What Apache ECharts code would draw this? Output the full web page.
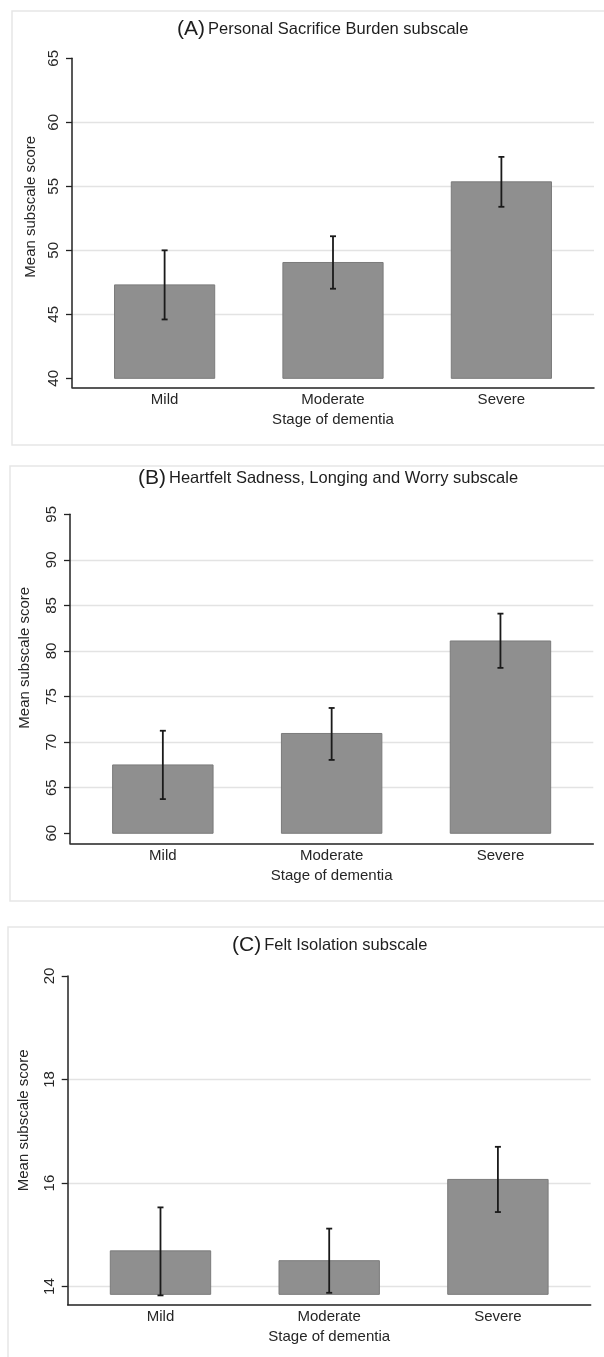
<!DOCTYPE html>
<html>
<head>
<meta charset="utf-8">
<script src="https://cdn.jsdelivr.net/npm/echarts@6/dist/echarts.min.js"></script>
<style>
html,body{margin:0;padding:0;background:#fff;}
#chart{width:604px;height:1357px;}
</style>
</head>
<body>
<div id="chart"></div>
<script>
// ---------- data ----------
const CATEGORIES = ['Mild', 'Moderate', 'Severe'];

const TITLE_TAGS = ['(A)', '(B)', '(C)'];
const TITLES = ['Personal Sacrifice Burden subscale', 'Heartfelt Sadness, Longing and Worry subscale', 'Felt Isolation subscale'];

const MEAN_A = [47.3, 49.05, 55.35];
const LOW_A  = [44.6, 47.0, 53.4];
const HIGH_A = [50.0, 51.1, 57.3];
const TICKS_A = [40, 45, 50, 55, 60, 65];

const MEAN_B = [67.5, 70.95, 81.1];
const LOW_B  = [63.75, 68.05, 78.15];
const HIGH_B = [71.25, 73.75, 84.1];
const TICKS_B = [60, 65, 70, 75, 80, 85, 90, 95];

const MEAN_C = [14.69, 14.50, 16.07];
const LOW_C  = [13.83, 13.88, 15.44];
const HIGH_C = [15.53, 15.12, 16.70];
const TICKS_C = [14, 16, 18, 20];

const BASE = [40, 60, 13.85];            // bar baselines
const Y_RANGE = [[39.3, 65], [58.9, 95], [13.65, 20]];

const Y_NAME = 'Mean subscale score';
const X_NAME = 'Stage of dementia';

// ---------- rendering ----------
const FONT = '"Liberation Sans", Arial, sans-serif';
const TXT = '#262626';
const BAR_W = 0.595;   // in category units
const CAP = 3;         // error-bar half cap, px

const panels = [
  {mean: MEAN_A, low: LOW_A, high: HIGH_A, ticks: TICKS_A},
  {mean: MEAN_B, low: LOW_B, high: HIGH_B, ticks: TICKS_B},
  {mean: MEAN_C, low: LOW_C, high: HIGH_C, ticks: TICKS_C}
];

const layout = [
  {grid: {left: 72, top: 58.3, width: 522, height: 329}, nameGap: 32, namePad: 32, labelMargin: 11, title: {left: 172, top: 14}, frame: [12, 11, 600, 434]},
  {grid: {left: 70, top: 514.3, width: 523.3, height: 329}, nameGap: 38, namePad: 42, labelMargin: 11, title: {left: 133, top: 463}, frame: [10, 466, 600, 435]},
  {grid: {left: 67.7, top: 976, width: 523, height: 328.7}, nameGap: 36, namePad: 40, labelMargin: 10, title: {left: 227, top: 930}, frame: [8, 927, 600, 440]}
];

const grids = [], xAxes = [], yAxes = [], series = [], titles = [], graphics = [];

panels.forEach((p, k) => {
  const L = layout[k];
  grids.push(Object.assign({containLabel: false}, L.grid));
  xAxes.push({
    type: 'value', gridIndex: k, min: -0.55, max: 2.55,
    axisLine: {show: true, onZero: false, lineStyle: {color: '#222', width: 1.5}},
    axisTick: {show: false},
    splitLine: {show: false},
    axisLabel: {
      customValues: CATEGORIES.map((c, i) => i),
      formatter: v => CATEGORIES[Math.round(v)],
      color: TXT, fontFamily: FONT, fontSize: 15, margin: 5
    },
    name: X_NAME, nameLocation: 'middle', nameGap: 25,
    nameTextStyle: {color: TXT, fontFamily: FONT, fontSize: 15}
  });
  yAxes.push({
    type: 'value', gridIndex: k, min: Y_RANGE[k][0], max: Y_RANGE[k][1],
    axisLine: {show: true, onZero: false, lineStyle: {color: '#222', width: 1.5}},
    axisTick: {show: true, length: 6, customValues: p.ticks, lineStyle: {color: '#222', width: 1.3}},
    axisLabel: {customValues: p.ticks, rotate: 90, color: TXT, fontFamily: FONT, fontSize: 15, margin: L.labelMargin},
    splitLine: {show: true, showMinLine: k === 2, showMaxLine: false, lineStyle: {color: '#e3e3e3', width: 1.3}},
    name: Y_NAME, nameLocation: 'middle', nameRotate: 90, nameGap: L.nameGap,
    nameTextStyle: {color: TXT, fontFamily: FONT, fontSize: 15, padding: [0, 0, 0, L.namePad]}
  });
  const base = BASE[k];
  series.push({
    type: 'custom', xAxisIndex: k, yAxisIndex: k,
    data: CATEGORIES.map((c, i) => [i, p.mean[i]]),
    encode: {x: 0, y: 1},
    renderItem: (params, api) => {
      const x = api.value(0), v = api.value(1);
      const tl = api.coord([x - BAR_W / 2, v]);
      const br = api.coord([x + BAR_W / 2, base]);
      return {type: 'rect', shape: {x: tl[0], y: tl[1], width: br[0] - tl[0], height: br[1] - tl[1]},
              style: {fill: '#8f8f8f', stroke: '#7b7b7b', lineWidth: 1}};
    }
  });
  series.push({
    type: 'custom', xAxisIndex: k, yAxisIndex: k,
    data: CATEGORIES.map((c, i) => [i, p.low[i], p.high[i]]),
    encode: {x: 0, y: [1, 2]},
    z: 5,
    renderItem: (params, api) => {
      const x = api.value(0);
      const lo = api.coord([x, api.value(1)]);
      const hi = api.coord([x, api.value(2)]);
      const st = {stroke: '#1a1a1a', lineWidth: 1.8};
      return {type: 'group', children: [
        {type: 'line', shape: {x1: hi[0], y1: hi[1], x2: lo[0], y2: lo[1]}, style: st},
        {type: 'line', shape: {x1: hi[0] - CAP, y1: hi[1], x2: hi[0] + CAP, y2: hi[1]}, style: st},
        {type: 'line', shape: {x1: lo[0] - CAP, y1: lo[1], x2: lo[0] + CAP, y2: lo[1]}, style: st}
      ]};
    }
  });
  titles.push({
    left: L.title.left, top: L.title.top,
    text: '{t|' + TITLE_TAGS[k] + '}{s|' + TITLES[k] + '}',
    textStyle: {fontWeight: 'normal', rich: {
      t: {fontFamily: FONT, fontSize: 21, fontWeight: 'normal', color: '#1e1e1e', padding: [0, 3, 0, 0]},
      s: {fontFamily: FONT, fontSize: 16.5, fontWeight: 'normal', color: '#1e1e1e'}
    }}
  });
  graphics.push({
    type: 'rect', silent: true, z: -1,
    shape: {x: L.frame[0], y: L.frame[1], width: L.frame[2], height: L.frame[3]},
    style: {fill: 'none', stroke: '#e6e6e6', lineWidth: 1.5}
  });
});

const chart = echarts.init(document.getElementById('chart'), null, {renderer: 'canvas'});
chart.setOption({
  animation: false,
  backgroundColor: '#fff',
  title: titles,
  grid: grids,
  xAxis: xAxes,
  yAxis: yAxes,
  series: series,
  graphic: graphics
});
</script>
</body>
</html>
